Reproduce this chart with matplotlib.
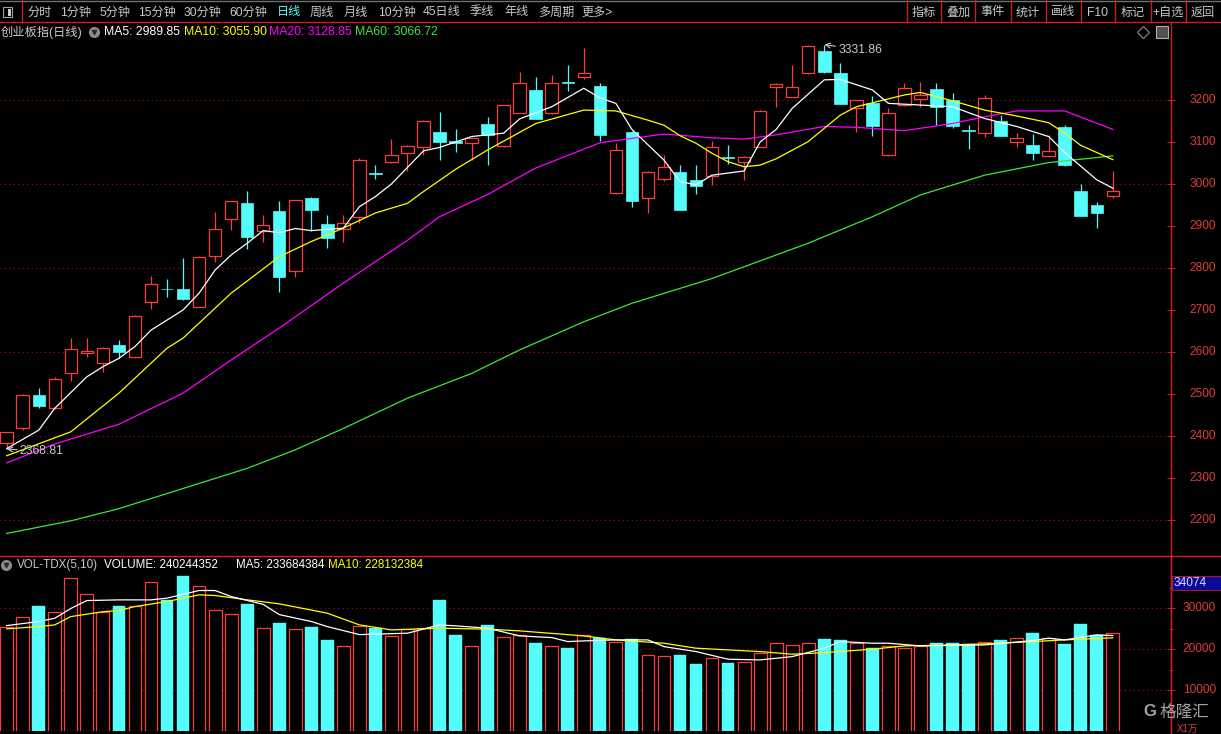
import numpy as np
import matplotlib
matplotlib.use('Agg')
import matplotlib.pyplot as plt
from matplotlib.lines import Line2D
from matplotlib.patches import Rectangle

plt.rcParams['font.family'] = ['Liberation Sans', 'Noto Sans CJK SC', 'DejaVu Sans']

W, H = 1221, 734

# daily candles (创业板指)
opens = [2383, 2418, 2497, 2466, 2549, 2597, 2573, 2617, 2587, 2720,
         2751, 2750, 2708, 2829, 2916, 2955, 2888, 2936, 2792, 2967,
         2904, 2892, 2921, 3027, 3053, 3075, 3087, 3124, 3102, 3097,
         3143, 3090, 3170, 3225, 3168, 3243, 3254, 3233, 2978, 3124,
         2966, 3011, 3028, 3010, 3020, 3065, 3053, 3089, 3230, 3208,
         3265, 3317, 3264, 3182, 3192, 3069, 3188, 3202, 3226, 3200,
         3128, 3121, 3150, 3099, 3093, 3067, 3135, 2983, 2950, 2972]
highs = [2410, 2500, 2514, 2540, 2633, 2633, 2611, 2629, 2688, 2781,
         2775, 2823, 2828, 2934, 2960, 2983, 2926, 2959, 2962, 2968,
         2926, 2926, 3062, 3045, 3106, 3092, 3152, 3172, 3130, 3112,
         3159, 3189, 3266, 3254, 3260, 3283, 3324, 3241, 3097, 3126,
         3030, 3069, 3045, 3045, 3103, 3093, 3067, 3176, 3240, 3283,
         3331, 3331.86, 3287, 3201, 3210, 3180, 3240, 3244, 3241, 3216,
         3141, 3212, 3164, 3121, 3118, 3117, 3141, 3000, 2956, 3030]
lows = [2368.81, 2415, 2466, 2464, 2532, 2589, 2552, 2585, 2585, 2702,
        2730, 2725, 2706, 2814, 2890, 2845, 2861, 2744, 2779, 2889,
        2847, 2863, 2906, 3013, 3049, 3030, 3069, 3056, 3077, 3057,
        3045, 3088, 3168, 3154, 3167, 3221, 3249, 3102, 2976, 2946,
        2932, 3006, 2937, 2976, 2998, 3048, 3010, 3087, 3184, 3206,
        3263, 3265, 3190, 3125, 3114, 3067, 3186, 3184, 3140, 3134,
        3083, 3113, 3114, 3087, 3057, 3065, 3043, 2924, 2896, 2966]
closes = [2409, 2497, 2472, 2535, 2606, 2602, 2609, 2599, 2686, 2763,
          2749, 2727, 2827, 2892, 2959, 2875, 2902, 2779, 2961, 2937,
          2872, 2906, 3058, 3025, 3068, 3090, 3150, 3101, 3097, 3110,
          3117, 3187, 3240, 3155, 3240, 3241, 3264, 3117, 3081, 2960,
          3028, 3040, 2938, 2996, 3087, 3063, 3065, 3174, 3238, 3232,
          3329, 3267, 3191, 3199, 3139, 3168, 3228, 3212, 3184, 3139,
          3126, 3204, 3115, 3109, 3073, 3079, 3045, 2925, 2932, 2983]
# volume, unit 万
volumes = [25400, 28000, 30640, 29090, 37420, 33500, 29240, 30640, 30640, 36440,
           32110, 37990, 35540, 29660, 28600, 31130, 25170, 26470, 25000, 25490,
           22300, 20760, 25740, 25330, 23280, 24920, 25170, 32110, 23530, 20760,
           25980, 23040, 23450, 21570, 20760, 20340, 23600, 22720, 21890, 22470,
           18550, 18300, 18630, 16420, 17970, 16670, 16830, 19040, 21570, 21000,
           21570, 22550, 22300, 21640, 20270, 20760, 20270, 20830, 21570, 21570,
           21250, 21740, 22300, 22720, 24020, 22790, 21200, 26230, 23530, 24024]

# moving averages (candle index, value)
ma5_idx = [0, 2, 3, 5, 6, 7, 8, 9, 11, 12, 13, 14, 15, 16, 17, 18, 19, 21, 22, 23,
           24, 26, 27, 29, 31, 32, 34, 36, 37, 38, 39, 41, 42, 43, 44, 46, 47, 48, 49, 51,
           52, 54, 55, 57, 59, 61, 63, 65, 66, 68, 69]
ma5_val = [2370, 2414, 2466, 2541, 2565, 2585, 2613, 2652, 2700, 2740, 2795, 2831, 2859, 2889, 2884, 2894, 2889, 2895, 2946, 2970,
           3000, 3079, 3087, 3113, 3121, 3155, 3184, 3228, 3205, 3192, 3130, 3057, 3006, 2998, 3021, 3031, 3100, 3130, 3180, 3248,
           3249, 3224, 3192, 3188, 3184, 3156, 3137, 3113, 3075, 3010, 2990]
ma10_idx = [0, 4, 7, 10, 11, 14, 17, 19, 21, 23, 25, 26, 28, 30, 33, 36, 38, 40, 41, 42,
            43, 44, 45, 46, 47, 48, 50, 52, 53, 56, 57, 59, 61, 63, 65, 66, 67, 69]
ma10_val = [2353, 2410, 2502, 2609, 2633, 2740, 2827, 2863, 2895, 2931, 2954, 2982, 3035, 3081, 3144, 3176, 3174, 3152, 3140, 3115,
            3097, 3073, 3053, 3041, 3045, 3060, 3101, 3164, 3184, 3212, 3218, 3198, 3176, 3162, 3146, 3121, 3092, 3058]
ma20_idx = [0, 3, 7, 11, 14, 17, 21, 25, 27, 30, 33, 37, 41, 44, 46, 48, 51, 53, 56, 59, 61, 63, 66, 69]
ma20_val = [2336, 2381, 2428, 2502, 2581, 2657, 2764, 2866, 2922, 2975, 3038, 3098, 3119, 3110, 3107, 3117, 3137, 3135, 3127, 3144,
            3160, 3174, 3174, 3130]
ma60_idx = [0, 4, 7, 11, 15, 18, 21, 25, 29, 32, 36, 39, 44, 46, 50, 54, 57, 61, 65, 69]
ma60_val = [2168, 2198, 2227, 2275, 2323, 2367, 2418, 2490, 2549, 2605, 2672, 2716, 2775, 2803, 2859, 2922, 2974, 3021, 3051, 3067]

vma5_idx = [0, 2, 3, 4, 5, 7, 9, 10, 12, 13, 14, 16, 17, 19, 20, 22, 25, 27, 28, 30, 32, 34, 35, 36, 38, 40, 41, 43, 45, 47,
            49, 51, 52, 54, 55, 57, 61, 64, 65, 66, 68, 69]
vma5_val = [25800, 26800, 27600, 30000, 31930, 32100, 32100, 32520, 34390, 34390, 32920, 31000, 28500, 26800, 25560, 23600, 23940,
            25980, 25740, 25170, 23280, 22870, 21890, 22060, 22300, 22300, 20660, 19440, 17570, 17400, 18210, 20270, 21890, 21490,
            21490, 20830, 21080, 22130, 22720, 22300, 23530, 23368]
vma10_idx = [0, 2, 3, 4, 6, 7, 8, 10, 12, 13, 15, 17, 20, 22, 24, 27, 30, 32, 36, 38, 41, 43, 47, 49, 51, 54, 56, 59, 61, 64,
             66, 69]
vma10_val = [25000, 25560, 25980, 28010, 29200, 29480, 30460, 31690, 33330, 33170, 32110, 31130, 28840, 25980, 24750, 25170,
             24930, 24510, 23280, 22300, 21490, 20270, 19440, 18800, 19190, 20020, 20830, 21080, 21320, 21890, 22300, 22813]

price_ticks = [2200, 2300, 2400, 2500, 2600, 2700, 2800, 2900, 3000, 3100, 3200]
price_grid = [2200, 2400, 2600, 2800, 3000, 3200]
vol_ticks = [10000, 20000, 30000]

toolbar_left = ['分时', '1分钟', '5分钟', '15分钟', '30分钟', '60分钟', '日线', '周线', '月线',
                '10分钟', '45日线', '季线', '年线', '多周期', '更多>']
toolbar_right = ['指标', '叠加', '事件', '统计', '画线', 'F10', '标记', '+自选', '返回']

RED = '#ff3c3c'
CYAN = '#54fcfc'
AXRED = '#c81e1e'
GRID = '#9a1414'
LBL = '#dc3c3c'
GRAY = '#c8c8c8'
GREEN = '#3ce63c'

fig = plt.figure(figsize=(W / 100, H / 100), dpi=100, facecolor='black')


def fx(x):
    return x / W


def fy(y):
    return 1 - y / H


ax = fig.add_axes([0, fy(555), fx(1171), (555 - 22) / H])
vax = fig.add_axes([0, fy(731), fx(1171), (731 - 556) / H])
for a in (ax, vax):
    a.set_facecolor('black')
    for s in ('top', 'left', 'bottom'):
        a.spines[s].set_visible(False)
    a.spines['right'].set_color(AXRED)
    a.spines['right'].set_linewidth(1)
    a.set_xlim(-0.418, 72.63)
    a.set_xticks([])
    a.yaxis.set_ticks_position('right')
    a.tick_params(axis='y', colors=AXRED, direction='inout', length=6, width=0.8,
                  labelright=False, labelleft=False)

ax.set_ylim(3200 - (555 - 100) / 0.42, 3200 + 78 / 0.42)
vax.set_ylim(0, (731 - 556) / 40.85 * 10000)

# price pane
o, h, l, c = map(np.array, (opens, highs, lows, closes))
idx = np.arange(len(o))
up = c >= o
dn = ~up

for g in price_grid:
    ax.axhline(g, color=GRID, lw=0.8, ls=(0, (1, 3)), zorder=1)
ax.set_yticks(price_ticks)
for t in price_ticks:
    ax.text(1216 / 1171, t, str(t), transform=ax.get_yaxis_transform(), ha='right', va='center',
            color=LBL, fontsize=8.6, clip_on=False)

bw = 0.78
top = np.maximum(o, c)
bot = np.minimum(o, c)
ax.vlines(idx[up], top[up], h[up], color=RED, lw=0.9, zorder=2)
ax.vlines(idx[up], l[up], bot[up], color=RED, lw=0.9, zorder=2)
ax.bar(idx[up], (c - o)[up], bottom=o[up], width=bw, facecolor='black', edgecolor=RED, lw=0.9, zorder=3)
ax.vlines(idx[dn], l[dn], h[dn], color=CYAN, lw=0.9, zorder=2)
ax.bar(idx[dn], np.maximum((o - c)[dn], 1.2), bottom=c[dn], width=bw, facecolor=CYAN, edgecolor=CYAN, lw=0.5, zorder=3)

ax.plot(ma60_idx, ma60_val, color=GREEN, lw=0.9, zorder=4)
ax.plot(ma20_idx, ma20_val, color='#ff00ff', lw=0.9, zorder=4)
ax.plot(ma10_idx, ma10_val, color='#ffff00', lw=0.9, zorder=4)
ax.plot(ma5_idx, ma5_val, color='white', lw=0.9, zorder=4)

lo_i = int(np.argmin(l))
hi_i = int(np.argmax(h))
ax.annotate(f'{l[lo_i]:.2f}', xy=(lo_i, l[lo_i]), xytext=(13, -2), textcoords='offset pixels',
            ha='left', va='center', color=GRAY, fontsize=8.8, zorder=6,
            arrowprops=dict(arrowstyle='->', color=GRAY, lw=0.8, shrinkA=0, shrinkB=0))
ax.annotate(f'{h[hi_i]:.2f}', xy=(hi_i, h[hi_i]), xytext=(14, -5), textcoords='offset pixels',
            ha='left', va='center', color=GRAY, fontsize=8.8, zorder=6,
            arrowprops=dict(arrowstyle='->', color=GRAY, lw=0.8, shrinkA=0, shrinkB=0))

# volume pane
v = np.array(volumes)
for g in vol_ticks:
    vax.axhline(g, color=GRID, lw=0.8, ls=(0, (1, 3)), zorder=1)
vax.set_yticks(vol_ticks)
vax.set_yticks([5000, 15000, 25000, 35000], minor=True)
vax.tick_params(axis='y', which='minor', colors=AXRED, direction='inout', length=3, width=0.8)
for t in vol_ticks:
    vax.text(1216 / 1171, t, str(t), transform=vax.get_yaxis_transform(), ha='right', va='center',
             color=LBL, fontsize=8.6, clip_on=False)
vax.bar(idx[up], v[up], width=0.8, facecolor='black', edgecolor=RED, lw=0.9, zorder=2)
vax.bar(idx[dn], v[dn], width=0.8, facecolor=CYAN, edgecolor=CYAN, lw=0.3, zorder=2)
vax.plot(vma10_idx, vma10_val, color='#ffff00', lw=0.9, zorder=4)
vax.plot(vma5_idx, vma5_val, color='white', lw=0.9, zorder=4)

# frame lines
def hline(y, x0, x1, color=AXRED, lw=1):
    fig.add_artist(Line2D([fx(x0), fx(x1)], [fy(y), fy(y)], color=color, lw=lw, transform=fig.transFigure))


def vline(x, y0, y1, color=AXRED, lw=1):
    fig.add_artist(Line2D([fx(x), fx(x)], [fy(y0), fy(y1)], color=color, lw=lw, transform=fig.transFigure))


hline(0.5, 0, W, color='#707070')
hline(22, 0, W)
hline(555.5, 0, W)
vline(21.7, 0, 22)
vline(1171, 555, 734)
for xs in [907, 940.6, 975.4, 1010.7, 1045.5, 1081, 1114.9, 1150.5, 1186]:
    vline(xs, 0, 22)

# toolbar
toolbar_x = [27.7, 60, 99, 138, 184, 229, 277, 310, 344, 378, 423, 470, 504, 538, 581]
for name, x in zip(toolbar_left, toolbar_x):
    fig.text(fx(x), fy(12.5), name, ha='left', va='center', fontsize=8.7,
             color=CYAN if name == '日线' else GRAY)
for name, x in zip(toolbar_right, [924, 958, 993, 1028, 1063, 1098, 1133, 1168, 1203]):
    fig.text(fx(x), fy(12.5), name, ha='center', va='center', fontsize=8.7, color=GRAY)
fig.add_artist(Rectangle((fx(3), fy(17)), fx(9), 10 / H, fill=False, ec='#a0a0a0', lw=0.8,
                         transform=fig.transFigure))
fig.add_artist(Rectangle((fx(8), fy(15.5)), fx(3), 7 / H, fc='#d0d0d0', ec='none',
                         transform=fig.transFigure))

# title line of the price pane
fig.text(fx(1), fy(32), '创业板指(日线)', ha='left', va='center', fontsize=8.8, color=GRAY)
fig.add_artist(Line2D([fx(94)], [fy(32)], marker='o', ms=7, color='#8c8c8c', transform=fig.transFigure))
fig.add_artist(Line2D([fx(94)], [fy(31.5)], marker='v', ms=3, color='#2a2a2a', transform=fig.transFigure))
ma_titles = [('MA5: 2989.85', 'white', 104), ('MA10: 3055.90', '#ffff00', 184),
             ('MA20: 3128.85', '#ff00ff', 269), ('MA60: 3066.72', GREEN, 355)]
for txt, col, x in ma_titles:
    fig.text(fx(x), fy(32), txt, ha='left', va='center', fontsize=8.8, color=col)
fig.add_artist(Line2D([fx(1142.5)], [fy(32)], marker='D', ms=6, mfc='none', mec='#8c8c8c', mew=0.8,
                      transform=fig.transFigure))
fig.add_artist(Line2D([fx(1162)], [fy(32)], marker='s', ms=8, mfc='#505050', mec='#b0b0b0', mew=0.8,
                      transform=fig.transFigure))

# title line of the volume pane
fig.add_artist(Line2D([fx(6)], [fy(565)], marker='o', ms=7, color='#8c8c8c', transform=fig.transFigure))
fig.add_artist(Line2D([fx(6)], [fy(564.5)], marker='v', ms=3, color='#2a2a2a', transform=fig.transFigure))
vol_titles = [('VOL-TDX(5,10)', GRAY, 16.6), ('VOLUME: 240244352', 'white', 104),
              ('MA5: 233684384', 'white', 236.5), ('MA10: 228132384', '#ffff00', 328)]
for txt, col, x in vol_titles:
    fig.text(fx(x), fy(565), txt, ha='left', va='center', fontsize=8.4, color=col)

# current value box on the volume axis
fig.add_artist(Rectangle((fx(1172), fy(590)), fx(49), 14 / H, fc='#0a0a96', ec=AXRED, lw=0.6,
                         transform=fig.transFigure))
fig.text(fx(1174), fy(583), '34074', ha='left', va='center', fontsize=8.6, color='#d8d8ff')
fig.text(fx(1177), fy(729), 'X1万', ha='left', va='center', fontsize=7, color=LBL)

# watermark
fig.text(fx(1150), fy(712), 'G', ha='center', va='center', fontsize=12, fontweight='bold',
         color='#b4b4b4', alpha=0.9)
fig.text(fx(1160), fy(712), '格隆汇', ha='left', va='center', fontsize=12, color='#b4b4b4', alpha=0.9)

fig.savefig('out.png', dpi=100, facecolor='black')
